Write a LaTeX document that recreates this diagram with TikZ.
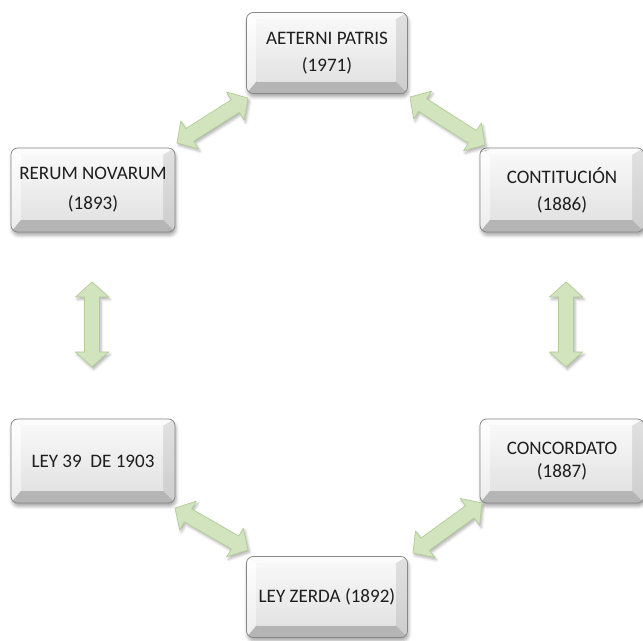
\documentclass[tikz,border=0pt]{standalone}
\usepackage{fontspec}
\setmainfont{Carlito}
\usetikzlibrary{calc,shadows.blur}

\definecolor{boxedge}{HTML}{878787}
\definecolor{bevtop}{HTML}{FBFBFB}
\definecolor{bevleft}{HTML}{ECECEC}
\definecolor{bevright}{HTML}{CDCDCD}
\definecolor{bevbot}{HTML}{B5B5B5}
\definecolor{facetop}{HTML}{F8F8F8}
\definecolor{facebot}{HTML}{E3E3E3}
\definecolor{arrfill}{HTML}{D1E4BE}
\definecolor{arredge}{HTML}{B1CC95}
\definecolor{txt}{HTML}{1E1E1E}

\tikzset{
  bevelbox/.style={
    rounded corners=5pt, draw=boxedge, line width=0.6pt, fill=bevright,
    minimum width=123pt, minimum height=63pt, inner sep=0pt,
    align=center, text=txt, font=\fontsize{14.3}{17.3}\selectfont,
    blur shadow={shadow xshift=0.8pt, shadow yshift=-2.5pt,
                 shadow opacity=35, shadow blur radius=2.5pt},
    path picture={
      \coordinate (pSW) at (path picture bounding box.south west);
      \coordinate (pNE) at (path picture bounding box.north east);
      \coordinate (pNW) at (pSW|-pNE);
      \coordinate (pSE) at (pNE|-pSW);
      \coordinate (qSW) at ($(pSW)+(10,12)$);
      \coordinate (qNE) at ($(pNE)+(-12,-7)$);
      \coordinate (qNW) at (qSW|-qNE);
      \coordinate (qSE) at (qNE|-qSW);
      \fill[sharp corners, bevtop] (pNW) -- (pNE) -- (qNE) -- (qNW) -- cycle;
      \shade[sharp corners, top color=white, bottom color=bevleft]
        (pNW) -- (qNW) -- (qSW) -- (pSW) -- cycle;
      \shade[sharp corners, top color=bevright!60!white, bottom color=bevright]
        (pNE) -- (pSE) -- (qSE) -- (qNE) -- cycle;
      \fill[sharp corners, bevbot] (pSW) -- (qSW) -- (qSE) -- (pSE) -- cycle;
      \shade[sharp corners, top color=facetop, bottom color=facebot]
        (qSW) rectangle (qNE);
    }
  },
  widebox/.style={bevelbox, minimum width=120.75pt, minimum height=60.75pt},
  blockarrow/.style={
    fill=arrfill, draw=arredge, line width=0.5pt, line join=round,
    sharp corners,
    blur shadow={shadow xshift=1.2pt, shadow yshift=-1.8pt,
                 shadow opacity=30, shadow blur radius=2pt}
  }
}

% double-headed block arrow between two named points
\newcommand\dblarrow[2]{%
  \coordinate (ha) at ($(#1)!11.25pt!(#2)$);
  \coordinate (hb) at ($(#2)!11.25pt!(#1)$);
  \path[blockarrow] (#1)
    -- ($(ha)!12.4pt!90:(#2)$) -- ($(ha)!5.6pt!90:(#2)$)
    -- ($(hb)!5.6pt!-90:(#1)$) -- ($(hb)!12.4pt!-90:(#1)$)
    -- (#2)
    -- ($(hb)!12.4pt!90:(#1)$) -- ($(hb)!5.6pt!90:(#1)$)
    -- ($(ha)!5.6pt!-90:(#2)$) -- ($(ha)!12.4pt!-90:(#2)$)
    -- cycle;
}

\begin{document}
\begin{tikzpicture}[x=0.75pt, y=0.75pt]
  \useasboundingbox (0,0) rectangle (643,-641);

  % event boxes
  \node[widebox]  (aeterni) at (327,-53)  {AETERNI PATRIS\\[3pt](1971)};
  \node[bevelbox] (rerum)   at (93,-190)  {RERUM NOVARUM\\[5.3pt](1893)};
  \node[bevelbox] (contit)  at (562,-190) {CONTITUCIÓN\\[3pt](1886)};
  \node[bevelbox] (ley39)   at (93,-461)  {LEY 39\ \ DE 1903};
  \node[bevelbox] (concord) at (562,-461) {CONCORDATO\\(1887)};
  \node[widebox]  (zerda)   at (327,-597) {LEY ZERDA (1892)};

  % arrow end points in the gaps between the boxes
  \coordinate (tlA) at (177,-143);  \coordinate (tlB) at (248,-98);
  \coordinate (trA) at (410,-97);   \coordinate (trB) at (485,-145);
  \coordinate (vlA) at (92,-282);   \coordinate (vlB) at (92,-367);
  \coordinate (vrA) at (566,-282);  \coordinate (vrB) at (566,-367);
  \coordinate (blA) at (175,-508);  \coordinate (blB) at (248,-550);
  \coordinate (brA) at (482,-503);  \coordinate (brB) at (413,-553);

  \dblarrow{tlA}{tlB}
  \dblarrow{trA}{trB}
  \dblarrow{vlA}{vlB}
  \dblarrow{vrA}{vrB}
  \dblarrow{blA}{blB}
  \dblarrow{brA}{brB}
\end{tikzpicture}
\end{document}
